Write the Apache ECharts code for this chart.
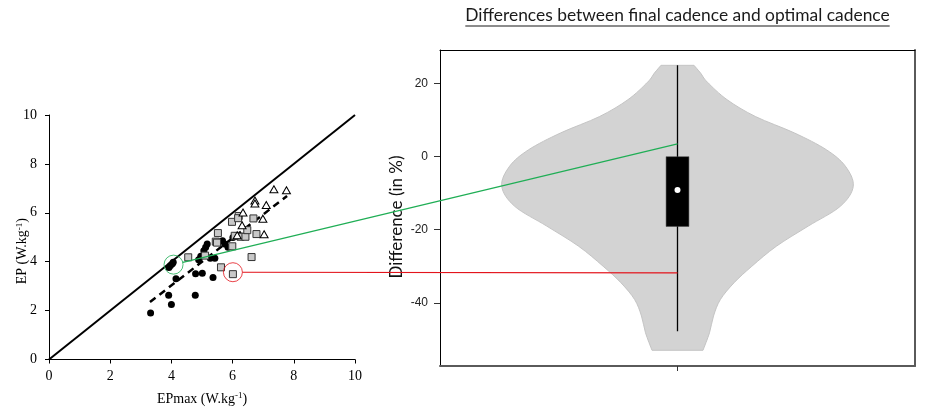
<!DOCTYPE html>
<html>
<head>
<meta charset="utf-8">
<script src="https://cdn.jsdelivr.net/npm/echarts@6/dist/echarts.min.js"></script>
<style>
  html, body { margin: 0; padding: 0; background: #fff; }
  #chart { width: 936px; height: 411px; }
</style>
</head>
<body>
<div id="chart"></div>
<script>
// ---- Left panel: EP vs EPmax (W.kg-1) ----
const groupCircles = [
  [3.32, 1.90], [3.91, 2.63], [4.00, 2.25], [4.78, 2.63], [4.15, 3.30], [4.79, 3.51],
  [5.01, 3.53], [5.36, 3.35], [3.92, 3.76], [3.97, 3.84], [4.03, 3.92], [4.06, 3.98],
  [4.89, 4.08], [4.96, 4.22], [5.06, 4.45], [5.12, 4.59], [5.17, 4.72], [5.27, 4.14],
  [5.42, 4.14], [5.67, 4.86], [5.74, 4.72], [5.85, 4.59], [6.01, 4.99], [6.10, 5.06]
];
const groupSquares = [
  [4.55, 4.18], [5.52, 5.17], [5.45, 4.82], [5.49, 4.78], [5.98, 5.63], [6.20, 5.87],
  [6.18, 5.78], [6.68, 5.77], [6.26, 5.02], [6.42, 5.02], [6.48, 5.29], [6.78, 5.13],
  [6.62, 4.19], [5.99, 4.63], [5.62, 3.77], [6.01, 3.49], [6.07, 5.06], [5.10, 4.25]
];
const groupTriangles = [
  [7.35, 6.96], [7.76, 6.92], [6.73, 6.50], [6.73, 6.38], [7.10, 6.32], [6.34, 6.01],
  [6.31, 5.49], [6.99, 5.76], [7.03, 5.12], [6.15, 5.08]
];
const identityLine = [[0, 0], [10, 10]];
const fitLine = [[3.30, 2.35], [7.78, 6.69]];

// Highlighted riders and their cadence difference
const greenPoint = [4.07, 3.88];
const greenDiff = 3.5;
const redPoint = [6.01, 3.57];
const redDiff = -31.8;

// ---- Right panel: violin of cadence differences (%) ----
const diffLevels = [25, 22.9, 20.4, 15.6, 11.0, 6.5, 1.9, -2.6, -8.1, -13.6, -19.0, -24.5, -30.0, -34.5, -39.1, -43.6, -48.2, -53];
const diffDensity = [0.094, 0.131, 0.170, 0.282, 0.443, 0.665, 0.847, 0.955, 1.0, 0.926, 0.744, 0.563, 0.423, 0.322, 0.244, 0.205, 0.182, 0.145];
const whiskerRange = [25, -47.8];
const quartiles = [-19.1, 0];
const medianDiff = -9.1;
const diffTicks = [-40, -20, 0, 20];

const violinHalfWidth = 0.74;
const boxHalfWidth = 0.048;

const chart = echarts.init(document.getElementById('chart'), null, { renderer: 'canvas' });

const serif = '"Liberation Serif", "Times New Roman", serif';
const sans = '"Liberation Sans", Arial, sans-serif';
const humanist = 'Lato, "Open Sans", sans-serif';

function hiddenAxis(extra) {
  return Object.assign({
    type: 'value', axisLabel: { show: false }, axisTick: { show: false },
    splitLine: { show: false }
  }, extra);
}

// Catmull-Rom spline through pixel points, as SVG path commands (no leading move)
function splineThrough(pts) {
  let d = '';
  for (let i = 0; i < pts.length - 1; i++) {
    const p0 = pts[Math.max(i - 1, 0)], p1 = pts[i], p2 = pts[i + 1], p3 = pts[Math.min(i + 2, pts.length - 1)];
    const c1 = [p1[0] + (p2[0] - p0[0]) / 6, p1[1] + (p2[1] - p0[1]) / 6];
    const c2 = [p2[0] - (p3[0] - p1[0]) / 6, p2[1] - (p3[1] - p1[1]) / 6];
    d += ' C' + c1[0] + ',' + c1[1] + ' ' + c2[0] + ',' + c2[1] + ' ' + p2[0] + ',' + p2[1];
  }
  return d;
}

chart.setOption({
  animation: false,
  backgroundColor: '#fff',
  grid: [
    { left: 49, top: 115, width: 306, height: 246 },
    { left: 440, top: 50, width: 475, height: 316 }
  ],
  xAxis: [
    {
      gridIndex: 0, type: 'value', min: 0, max: 10, interval: 2,
      axisLine: { lineStyle: { color: '#000', width: 1 } },
      axisTick: { show: true, length: 4, lineStyle: { color: '#000' } },
      axisLabel: { color: '#000', fontFamily: serif, fontSize: 14, margin: 10 },
      splitLine: { show: false },
      name: 'EPmax (W.kg{sup|-1})',
      nameLocation: 'middle', nameGap: 32, nameMoveOverlap: false,
      nameTextStyle: {
        color: '#000', fontFamily: serif, fontSize: 14,
        rich: { sup: { fontFamily: serif, fontSize: 9, verticalAlign: 'top', padding: [0, 0, 6, 0], color: '#000' } }
      }
    },
    hiddenAxis({
      gridIndex: 1, min: -1, max: 1, position: 'bottom',
      axisLine: { onZero: false, lineStyle: { color: '#5a5a5a', width: 2 } },
      axisTick: { show: true, customValues: [0], length: 5, lineStyle: { color: '#333' } }
    }),
    hiddenAxis({
      gridIndex: 1, min: -1, max: 1, position: 'top',
      axisLine: { onZero: false, lineStyle: { color: '#000', width: 1 } }
    })
  ],
  yAxis: [
    {
      gridIndex: 0, type: 'value', min: 0, max: 10, interval: 2,
      axisLine: { lineStyle: { color: '#000', width: 1 } },
      axisTick: { show: true, length: 4, lineStyle: { color: '#000' } },
      axisLabel: { color: '#000', fontFamily: serif, fontSize: 14, margin: 12 },
      splitLine: { show: false },
      name: 'EP (W.kg{sup|-1})',
      nameLocation: 'middle', nameGap: 19, nameRotate: 90, nameMoveOverlap: false,
      nameTextStyle: {
        color: '#000', fontFamily: serif, fontSize: 14, padding: [0, 28, 0, 0],
        rich: { sup: { fontFamily: serif, fontSize: 9, verticalAlign: 'top', padding: [0, 0, 6, 0], color: '#000' } }
      }
    },
    {
      gridIndex: 1, type: 'value', min: -57.3, max: 29.2, position: 'left',
      axisLine: { onZero: false, lineStyle: { color: '#000', width: 1 } },
      axisTick: { show: true, customValues: diffTicks, length: 6, lineStyle: { color: '#333' } },
      axisLabel: { customValues: diffTicks, color: '#222', fontFamily: sans, fontSize: 12, margin: 12 },
      splitLine: { show: false },
      name: 'Difference (in %)',
      nameLocation: 'middle', nameGap: 35, nameRotate: 90, nameMoveOverlap: false,
      nameTextStyle: { color: '#111', fontFamily: humanist, fontSize: 17, padding: [0, 18, 0, 0] }
    },
    hiddenAxis({
      gridIndex: 1, min: -57.3, max: 29.2, position: 'right',
      axisLine: { show: true, onZero: false, lineStyle: { color: '#5a5a5a', width: 2 } }
    })
  ],
  series: [
    {
      type: 'line', xAxisIndex: 0, yAxisIndex: 0, data: identityLine,
      showSymbol: false, symbol: 'none', lineStyle: { color: '#000', width: 2 }, z: 2
    },
    {
      type: 'line', xAxisIndex: 0, yAxisIndex: 0, data: fitLine,
      showSymbol: false, symbol: 'none',
      lineStyle: { color: '#000', width: 2.5, type: [7, 5] }, z: 2
    },
    {
      type: 'scatter', xAxisIndex: 0, yAxisIndex: 0, data: groupCircles,
      symbol: 'circle', symbolSize: 7, itemStyle: { color: '#000', opacity: 1 }, z: 3
    },
    {
      type: 'scatter', xAxisIndex: 0, yAxisIndex: 0, data: groupSquares,
      symbol: 'rect', symbolSize: 7,
      itemStyle: { color: '#c8c8c8', borderColor: '#333', borderWidth: 1, opacity: 1 }, z: 4
    },
    {
      type: 'scatter', xAxisIndex: 0, yAxisIndex: 0, data: groupTriangles,
      symbol: 'triangle', symbolSize: [8, 7],
      itemStyle: { color: '#fff', borderColor: '#000', borderWidth: 1, opacity: 1 }, z: 5
    },
    {
      type: 'scatter', xAxisIndex: 0, yAxisIndex: 0, data: [greenPoint],
      symbol: 'circle', symbolSize: 19,
      itemStyle: { color: 'rgba(0,0,0,0)', borderColor: '#1fae55', borderWidth: 1 }, z: 6
    },
    {
      type: 'scatter', xAxisIndex: 0, yAxisIndex: 0, data: [redPoint],
      symbol: 'circle', symbolSize: 19,
      itemStyle: { color: 'rgba(0,0,0,0)', borderColor: '#e3141c', borderWidth: 1 }, z: 6
    },
    {
      // violin body: smooth sides through the density profile, flat ends
      type: 'custom', xAxisIndex: 1, yAxisIndex: 1,
      data: [0],
      renderItem: function (params, api) {
        const right = diffLevels.map((lv, i) => api.coord([diffDensity[i] * violinHalfWidth, lv]));
        const left = diffLevels.map((lv, i) => api.coord([-diffDensity[i] * violinHalfWidth, lv])).reverse();
        const d = 'M' + right[0][0] + ',' + right[0][1] + splineThrough(right) +
          ' L' + left[0][0] + ',' + left[0][1] + splineThrough(left) + ' Z';
        return {
          type: 'path',
          shape: { pathData: d },
          style: { fill: '#d3d3d3', stroke: '#c4c4c4', lineWidth: 1 }
        };
      },
      z: 1
    },
    {
      type: 'line', xAxisIndex: 1, yAxisIndex: 1,
      data: [[0, whiskerRange[0]], [0, whiskerRange[1]]],
      showSymbol: false, symbol: 'none', lineStyle: { color: '#000', width: 1.3 }, z: 3
    },
    {
      type: 'custom', xAxisIndex: 1, yAxisIndex: 1,
      data: [quartiles],
      renderItem: function (params, api) {
        const tl = api.coord([-boxHalfWidth, api.value(1)]);
        const br = api.coord([boxHalfWidth, api.value(0)]);
        return {
          type: 'rect',
          shape: { x: tl[0], y: tl[1], width: br[0] - tl[0], height: br[1] - tl[1] },
          style: { fill: '#000', stroke: '#444', lineWidth: 0.5 }
        };
      },
      z: 4
    },
    {
      type: 'scatter', xAxisIndex: 1, yAxisIndex: 1, data: [[0, medianDiff]],
      symbol: 'circle', symbolSize: 6, itemStyle: { color: '#fff', opacity: 1 }, z: 5
    }
  ]
});

// Connectors from the circled riders to their cadence difference on the violin
function connector(point, diff, color, radius) {
  const from = chart.convertToPixel({ xAxisIndex: 0, yAxisIndex: 0 }, point);
  const to = chart.convertToPixel({ xAxisIndex: 1, yAxisIndex: 1 }, [0, diff]);
  const dx = to[0] - from[0], dy = to[1] - from[1];
  const len = Math.sqrt(dx * dx + dy * dy);
  return {
    type: 'line', z: 100, silent: true,
    shape: { x1: from[0] + dx / len * radius, y1: from[1] + dy / len * radius, x2: to[0], y2: to[1] },
    style: { stroke: color, lineWidth: 1.2 }
  };
}

const titleText = 'Differences between final cadence and optimal cadence';
const titleFont = '17.4px ' + humanist;
const measureCtx = document.createElement('canvas').getContext('2d');
measureCtx.font = titleFont;
const titleWidth = measureCtx.measureText(titleText).width;
const titleX = chart.convertToPixel({ xAxisIndex: 1, yAxisIndex: 1 }, [0, 0])[0];

chart.setOption({
  graphic: [
    connector(greenPoint, greenDiff, '#1fae55', 9.5),
    connector(redPoint, redDiff, '#e3141c', 9.5),
    {
      type: 'text', x: titleX, y: 24, silent: true,
      style: { text: titleText, font: titleFont, fill: '#1a1a1a', align: 'center', verticalAlign: 'bottom' }
    },
    {
      type: 'rect', silent: true,
      shape: { x: titleX - titleWidth / 2, y: 25.5, width: titleWidth, height: 1 },
      style: { fill: '#1a1a1a' }
    }
  ]
});
</script>
</body>
</html>
